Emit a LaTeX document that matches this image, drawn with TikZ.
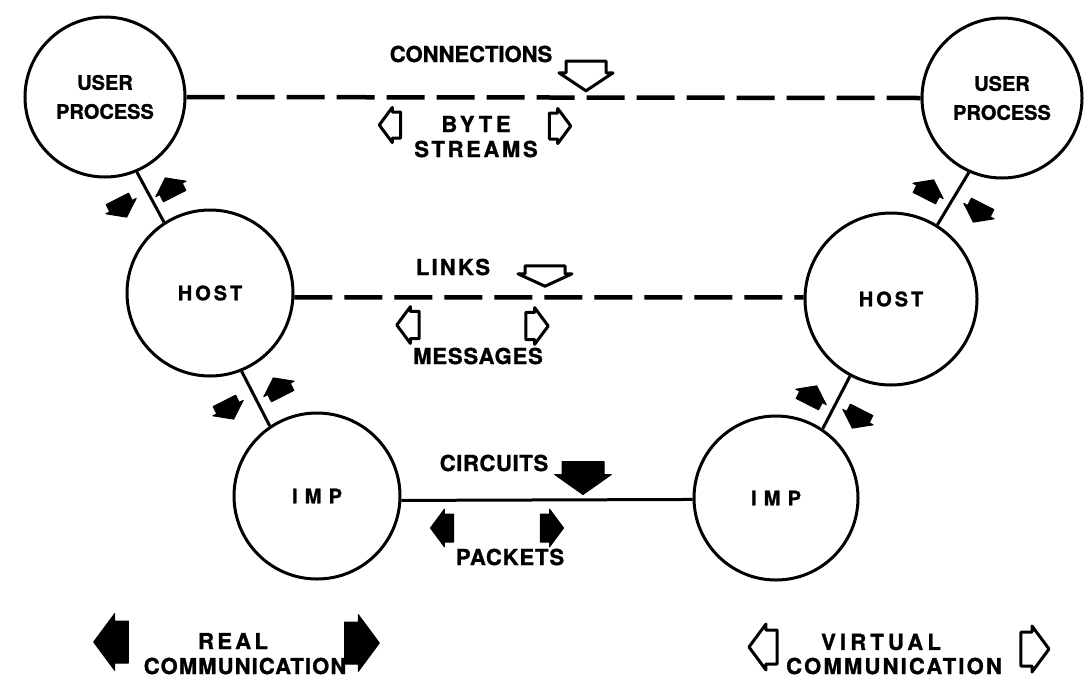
\documentclass[tikz,border=0pt]{standalone}
\usepackage{fontspec}
\setmainfont[BoldFeatures={FakeBold=1.2}]{TeX Gyre Heros}
\newcommand\LS[1]{\addfontfeatures{LetterSpace=#1}}
\tikzset{
  barrow/.pic={\path[pic actions] (-16.5,0) -- (3.5,27) -- (3.5,20) -- (16.5,20) -- (16.5,-20) -- (3.5,-20) -- (3.5,-27) -- cycle;},
  farrow/.style={fill=black, draw=black, line width=1pt, line join=round},
  oarrow/.style={fill=white, draw=black, line width=3pt, line join=round},
  circ/.style={circle, draw, line width=3pt, inner sep=0pt, align=center, font=\fontsize{20}{29}\selectfont\bfseries},
  lbl/.style={inner sep=0pt, font=\fontsize{22}{25}\selectfont\bfseries},
  conn/.style={line width=3pt},
  dashA/.style={line width=4.5pt, dash pattern=on 38pt off 12pt}
}
\begin{document}
\begin{tikzpicture}[x=1pt,y=-1pt]
\useasboundingbox (0,0) rectangle (1089,689);
% circles
\node[circ, minimum size=160pt] (uL) at (105,97) {\LS{0}USER\\\LS{0}PROCESS};
\node[circ, minimum size=160pt] (uR) at (1002,98) {\LS{0}USER\\\LS{0}PROCESS};
\node[circ, minimum size=166pt] (hL) at (210,293) {\LS{15}HOST};
\node[circ, minimum size=172pt] (hR) at (891,299) {\LS{15}HOST};
\node[circ, minimum size=166pt] (iL) at (317,496) {\LS{36}IMP};
\node[circ, minimum size=164pt] (iR) at (776,498) {\LS{36}IMP};
% connectors
\draw[conn] (uL.-67) -- (hL.123);
\draw[conn] (hL.-68) -- (iL.124);
\draw[conn] (uR.-114) -- (hR.58);
\draw[conn] (hR.-118) -- (iR.56);
\draw[dashA] (uL.east) -- (uR.west);
\draw[dashA] (hL.-3) -- (hR.179);
\draw[conn] (iL.-3) -- (iR.181);
% diagonal arrows
\pic[farrow, rotate=117, xscale=0.62, yscale=0.63] at (122,208) {barrow};
\pic[farrow, rotate=-63, xscale=0.62, yscale=0.63] at (170,187) {barrow};
\pic[farrow, rotate=117, xscale=0.62, yscale=0.63] at (229,410) {barrow};
\pic[farrow, rotate=-63, xscale=0.62, yscale=0.63] at (278,387) {barrow};
\pic[farrow, rotate=63, xscale=0.62, yscale=0.63] at (978,213) {barrow};
\pic[farrow, rotate=-117, xscale=0.62, yscale=0.63] at (929,189) {barrow};
\pic[farrow, rotate=63, xscale=0.62, yscale=0.63] at (857,419) {barrow};
\pic[farrow, rotate=-117, xscale=0.62, yscale=0.63] at (812,395) {barrow};
% horizontal-level arrows
\pic[oarrow, rotate=90, xscale=0.9, yscale=1.0] at (586,76) {barrow};
\pic[oarrow, scale=0.65] at (390,125) {barrow};
\pic[oarrow, rotate=180, scale=0.65] at (560,126) {barrow};
\pic[oarrow, rotate=90, xscale=0.62, yscale=1.0] at (545,276) {barrow};
\pic[oarrow, scale=0.68] at (408,325) {barrow};
\pic[oarrow, rotate=180, scale=0.68] at (537,326) {barrow};
\pic[farrow, rotate=90, xscale=1.0, yscale=1.05] at (583,478) {barrow};
\pic[farrow, scale=0.7] at (442,528) {barrow};
\pic[farrow, rotate=180, scale=0.7] at (552,528) {barrow};
% legend arrows
\pic[farrow, scale=1.05] at (111,642) {barrow};
\pic[farrow, rotate=180, scale=1.05] at (362,643) {barrow};
\pic[oarrow, scale=0.85] at (763,647) {barrow};
\pic[oarrow, rotate=180, scale=0.85] at (1035,649) {barrow};
% labels
\node[lbl] (tconn) at (471,54) {\LS{0}CONNECTIONS};
\node[lbl] (tbyte) at (476,124) {\LS{17}BYTE};
\node[lbl] (tstreams) at (476,149) {\LS{12}STREAMS};
\node[lbl] (tlinks) at (453,267) {\LS{10}LINKS};
\node[lbl] (tmsg) at (478,356) {\LS{4}MESSAGES};
\node[lbl] (tcirc) at (494,463) {\LS{3}CIRCUITS};
\node[lbl] (tpack) at (510,557) {\LS{4}PACKETS};
\node[lbl] (treal) at (233,641) {\LS{15}REAL};
\node[lbl] (tcomm1) at (245,666) {\LS{5}COMMUNICATION};
\node[lbl] (tvirt) at (881,642) {\LS{19}VIRTUAL};
\node[lbl] (tcomm2) at (894,666) {\LS{10}COMMUNICATION};
\end{tikzpicture}
\end{document}
